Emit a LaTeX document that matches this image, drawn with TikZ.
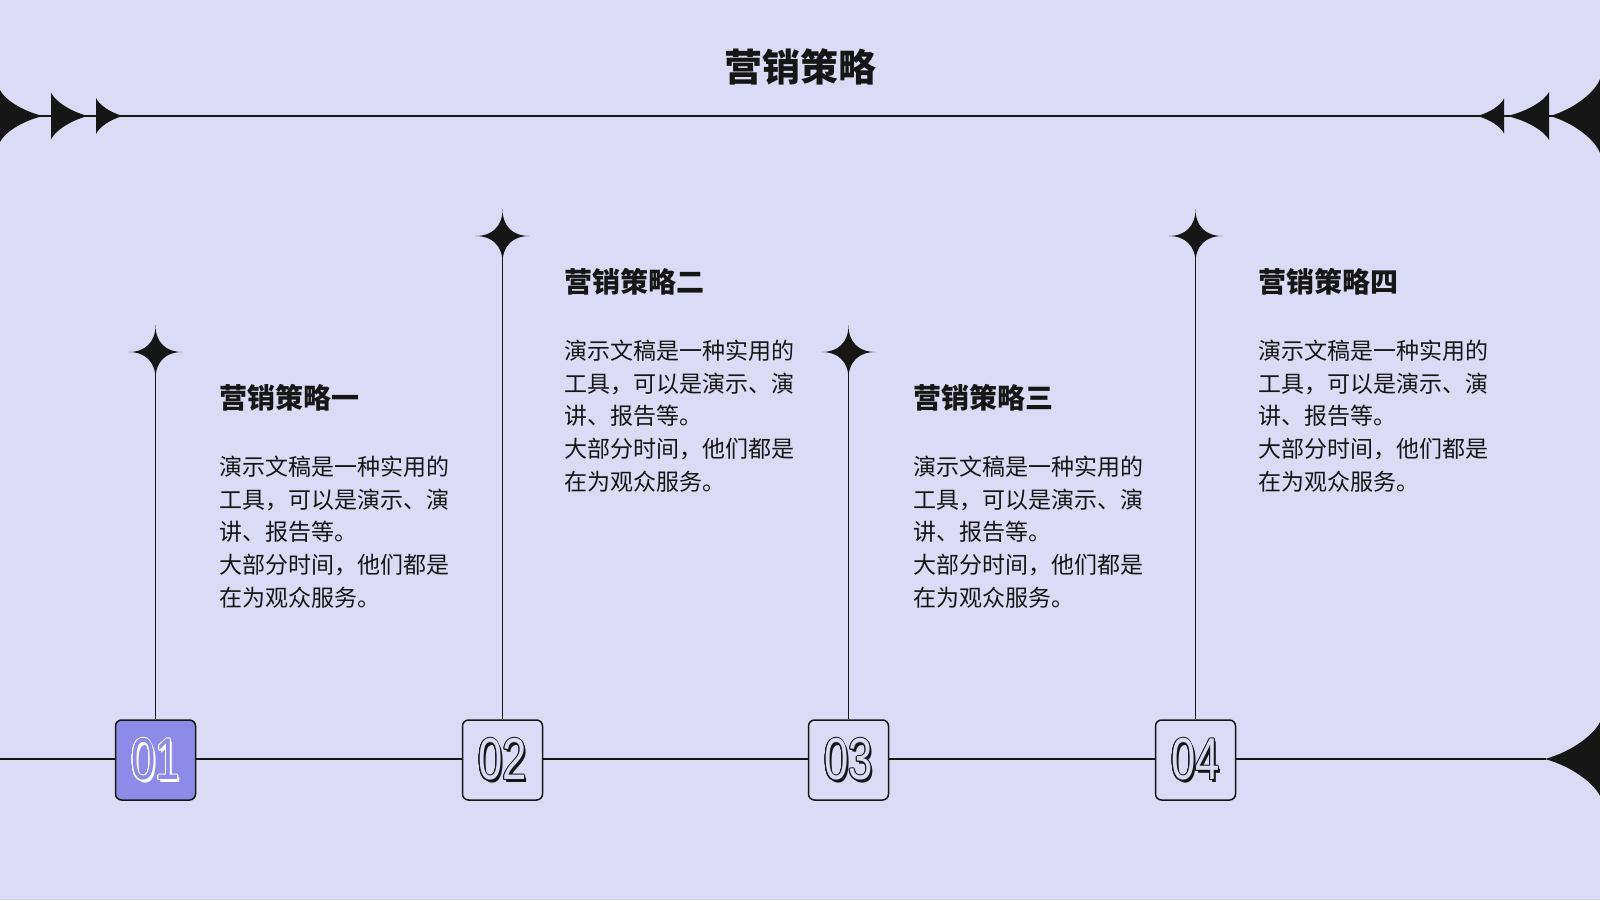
\documentclass[tikz,border=0pt]{standalone}
\usepackage{fontspec}
\usepackage{contour}
\usetikzlibrary{calc}
\newfontfamily\cjk{Noto Sans CJK SC}
\newfontfamily\numfont{Liberation Sans}
\definecolor{bg}{HTML}{DCDBF5}
\definecolor{ink}{HTML}{161616}
\definecolor{boxone}{HTML}{8C8CE8}
\contourlength{0.9pt}
% half star: edge x, axis y, width (signed), half height
\newcommand\hstar[5]{%
  \fill[ink] ({#1},{#2-#4}) .. controls ({#1+0.1*(#3)},{#2-0.65*#4}) and ({#1+0.5*(#3)},{#2-0.2*#4}) .. ({#1+#3},{#2})
     .. controls ({#1+0.5*(#3)},{#2+0.2*#4}) and ({#1+0.1*(#3)},{#2+0.65*#4}) .. ({#1},{#2+#4}) -- cycle;}
\tikzset{
  sparkle/.pic={\fill[ink] (0,-27) .. controls (0,-10) and (10,0) .. (27,0)
      .. controls (10,0) and (0,10) .. (0,27) .. controls (0,10) and (-10,0) .. (-27,0)
      .. controls (-10,0) and (0,-10) .. (0,-27) -- cycle;},
  rule/.style={draw=ink, line width=1.3pt},
  numbox/.style={draw=ink, line width=1.5pt, rounded corners=6pt, minimum width=80pt, minimum height=80pt, inner sep=0pt},
  ttl/.style={font=\cjk\bfseries\fontsize{38}{44}\selectfont, text=ink, inner sep=0pt},
  head/.style={font=\cjk\bfseries\fontsize{28}{34}\selectfont, text=ink, inner sep=0pt, anchor=west},
  body/.style={font=\cjk\fontsize{23}{32.6}\selectfont, text=ink, inner sep=0pt, anchor=north west, align=left},
  digit/.style={font=\numfont\fontsize{59}{60}\selectfont, inner sep=0pt},
}
\newcommand\bodytext{演示文稿是一种实用的\\工具，可以是演示、演\\讲、报告等。\\大部分时间，他们都是\\在为观众服务。}
\begin{document}
\begin{tikzpicture}[x=1pt,y=-1pt]
\fill[bg] (0,0) rectangle (1600,900);
\useasboundingbox (0,0) rectangle (1600,900);

% title
\node[ttl] (title) at (800,67) {营销策略};

% top rule with half stars
\coordinate (tl) at (0,116);
\coordinate (tr) at (1600,116);
\draw[rule] (tl) -- (tr);
\hstar{0}{116}{43}{26}{}
\hstar{51}{116}{37}{23.5}{}
\hstar{96}{116}{27}{18}{}
\hstar{1600}{116}{-50}{37}{}
\hstar{1549}{116}{-42}{24}{}
\hstar{1504}{116}{-27}{17.5}{}

% bottom rule
\coordinate (bl) at (0,759);
\coordinate (br) at (1546,759);
\draw[rule] (bl) -- (br);
\hstar{1601}{759}{-56}{39}{}

% vertical stems and stars
\coordinate (s1) at (155.5,352);
\coordinate (s2) at (502.5,236);
\coordinate (s3) at (848.5,352);
\coordinate (s4) at (1195.5,236);

\node[numbox, fill=boxone] (b1) at (155.5,760) {};
\node[numbox, fill=bg] (b2) at (502.5,760) {};
\node[numbox, fill=bg] (b3) at (848.5,760) {};
\node[numbox, fill=bg] (b4) at (1195.5,760) {};

\draw[rule] (s1) -- (b1.north);
\draw[rule] (s2) -- (b2.north);
\draw[rule] (s3) -- (b3.north);
\draw[rule] (s4) -- (b4.north);
\pic at (s1) {sparkle};
\pic at (s2) {sparkle};
\pic at (s3) {sparkle};
\pic at (s4) {sparkle};

% digits
\node[digit] (d1s) at ($(b1)+(2,2)$) {\scalebox{0.74}[1]{\textcolor{white}{01}}};
\node[digit] (d1) at (b1) {\scalebox{0.74}[1]{\contour{white}{\textcolor{boxone}{01}}}};
\node[digit] (d2s) at ($(b2)+(2.2,2.2)$) {\scalebox{0.74}[1]{\textcolor{ink}{02}}};
\node[digit] (d2) at (b2) {\scalebox{0.74}[1]{\contour{ink}{\textcolor{bg}{02}}}};
\node[digit] (d3s) at ($(b3)+(2.2,2.2)$) {\scalebox{0.74}[1]{\textcolor{ink}{03}}};
\node[digit] (d3) at (b3) {\scalebox{0.74}[1]{\contour{ink}{\textcolor{bg}{03}}}};
\node[digit] (d4s) at ($(b4)+(2.2,2.2)$) {\scalebox{0.74}[1]{\textcolor{ink}{04}}};
\node[digit] (d4) at (b4) {\scalebox{0.74}[1]{\contour{ink}{\textcolor{bg}{04}}}};

% text blocks
\node[head] (h1) at (219,398) {营销策略一};
\node[body] (t1) at (219,456) {\bodytext};
\node[head] (h2) at (564,282) {营销策略二};
\node[body] (t2) at (564,340) {\bodytext};
\node[head] (h3) at (913,398) {营销策略三};
\node[body] (t3) at (913,456) {\bodytext};
\node[head] (h4) at (1258,282) {营销策略四};
\node[body] (t4) at (1258,340) {\bodytext};
\end{tikzpicture}
\end{document}
